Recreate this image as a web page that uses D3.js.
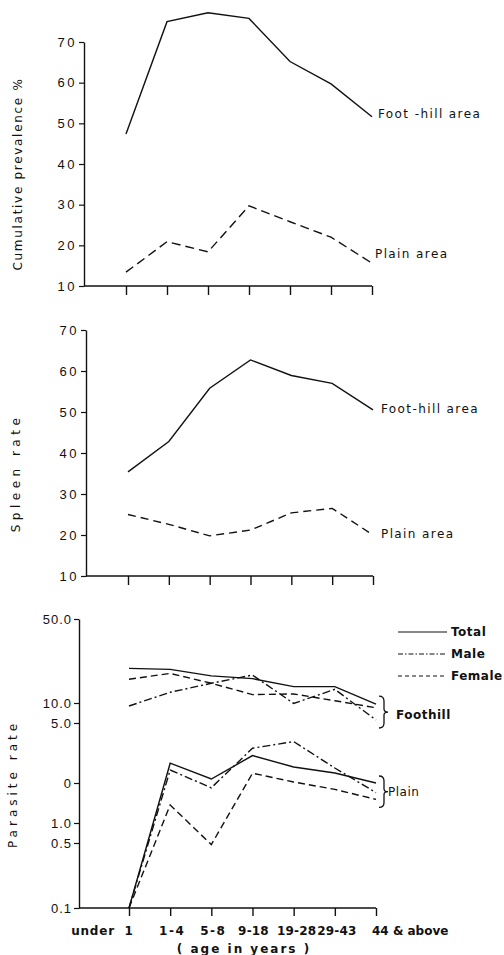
<!DOCTYPE html>
<html>
<head>
<meta charset="utf-8">
<script src="https://cdn.jsdelivr.net/npm/d3@7"></script>
<style>
  body { margin: 0; background: #fff; }
  svg { display: block; font-family: "DejaVu Sans", sans-serif; }
</style>
</head>
<body>
<svg width="504" height="955"></svg>
<script>
const ageGroups = ["under 1", "1-4", "5-8", "9-18", "19-28", "29-43", "44 & above"];

// cumulative prevalence %
const prevFoothill = [47.4, 75.0, 77.2, 75.8, 65.2, 59.7, 51.6];
const prevPlain = [13.4, 20.9, 18.4, 29.7, 25.8, 22.0, 15.6];
const prevTicks = [10, 20, 30, 40, 50, 60, 70];

// spleen rate
const spleenFoothill = [35.4, 42.8, 55.8, 62.7, 58.9, 57.0, 50.5];
const spleenPlain = [25.0, 22.6, 19.8, 21.2, 25.4, 26.5, 20.0];
const spleenTicks = [10, 20, 30, 40, 50, 60, 70];

// parasite rate
const parFootTotal = [26.5, 26.0, 22.9, 21.6, 17.8, 17.8, 9.7];
const parFootMale = [9.25, 15.1, 19.4, 23.3, 9.9, 16.5, 5.75];
const parFootFemale = [21.3, 24.1, 19.4, 14.0, 14.3, 11.1, 8.8];
const parPlainTotal = [0.1, 2.99, 2.2, 3.37, 2.8, 2.5, 2.0];
const parPlainMale = [0.1, 2.65, 1.88, 3.74, 4.07, 2.75, 1.76];
const parPlainFemale = [0.1, 1.45, 0.49, 2.49, 2.05, 1.84, 1.59];
const parTicks = [0.1, 0.5, 1, 2, 5, 10, 50];
const parTickLabels = ["0.1", "0.5", "1.0", "0", "5.0", "10.0", "50.0"];

const legendNames = ["Total", "Male", "Female"];

const ink = "#111";
const dash = { solid: null, dashed: "8,5", female: "7,4", male: "8,3,2,3" };

const svg = d3.select("svg");

function panel(opt) {
  const g = svg.append("g");
  const x = d3.scalePoint().domain(ageGroups).range(opt.xr);
  const y = d3.scaleLinear().domain(opt.ydomain).range(opt.yrange);

  // y axis
  const ya = g.append("g")
    .attr("transform", `translate(${opt.ax},0)`)
    .call(d3.axisLeft(y).tickValues(opt.ticks).tickSize(5).tickPadding(2)
      .tickSizeOuter(0).tickFormat(opt.fmt || d3.format("d")));
  ya.select(".domain").attr("stroke", ink).attr("stroke-width", 1.4);
  ya.selectAll(".tick line").attr("stroke", ink).attr("stroke-width", 1.2);
  ya.selectAll("text").attr("fill", ink).style("font-size", "13px")
    .style("letter-spacing", opt.ls + "px");

  // x axis (line starts at the y axis)
  const yb = opt.yrange[0];
  g.append("line")
    .attr("x1", opt.ax).attr("x2", opt.xr[1])
    .attr("y1", yb).attr("y2", yb)
    .attr("stroke", ink).attr("stroke-width", 1.4);
  const xa = g.append("g")
    .attr("transform", `translate(0,${yb})`)
    .call(d3.axisBottom(x).tickSize(opt.tick).tickFormat(""));
  xa.select(".domain").remove();
  xa.selectAll(".tick line").attr("stroke", ink).attr("stroke-width", 1.4);

  // y label
  g.append("text")
    .attr("transform", `translate(${opt.lx},${opt.ly}) rotate(-90)`)
    .attr("text-anchor", "middle")
    .attr("dy", "0.35em")
    .style("font-size", "12px")
    .style("letter-spacing", opt.lls + "px")
    .attr("fill", ink)
    .text(opt.label);

  const line = d3.line()
    .x((d, i) => x(ageGroups[i]))
    .y(d => y(d));

  opt.series.forEach(s => {
    g.append("path")
      .datum(s.values)
      .attr("d", line)
      .attr("fill", "none")
      .attr("stroke", ink)
      .attr("stroke-width", 1.4)
      .attr("stroke-dasharray", s.dash);
  });

  return { g, x, y };
}

// top panel
const p1 = panel({
  xr: [126, 372], ax: 84, ydomain: [10, 70], yrange: [286, 42], ticks: prevTicks,
  tick: 9, ls: 2.5, lx: 18, ly: 174, lls: 1.7, label: "Cumulative prevalence %",
  series: [
    { values: prevFoothill, dash: dash.solid },
    { values: prevPlain, dash: "9,5" }
  ]
});
p1.g.append("text").attr("x", 378).attr("y", p1.y(prevFoothill[6]) + 1)
  .style("font-size", "12px").style("letter-spacing", "1.4px").attr("fill", ink)
  .text("Foot -hill  area");
p1.g.append("text").attr("x", 375).attr("y", p1.y(prevPlain[6]) - 5)
  .style("font-size", "12px").style("letter-spacing", "1.4px").attr("fill", ink)
  .text("Plain  area");

// middle panel
const p2 = panel({
  xr: [128, 373], ax: 86, ydomain: [10, 70], yrange: [576, 330], ticks: spleenTicks,
  tick: 9, ls: 2.5, lx: 16, ly: 473, lls: 4.5, label: "Spleen rate",
  series: [
    { values: spleenFoothill, dash: dash.solid },
    { values: spleenPlain, dash: dash.dashed }
  ]
});
p2.g.append("text").attr("x", 381).attr("y", p2.y(spleenFoothill[6]) + 3)
  .style("font-size", "12px").style("letter-spacing", "1.4px").attr("fill", ink)
  .text("Foot-hill area");
p2.g.append("text").attr("x", 381).attr("y", p2.y(spleenPlain[6]) + 3)
  .style("font-size", "12px").style("letter-spacing", "1.4px").attr("fill", ink)
  .text("Plain  area");

// bottom panel
const p3 = panel({
  xr: [129, 376], ax: 79, ydomain: parTicks, yrange: [908, 843, 823, 783, 723, 703, 619],
  ticks: parTicks, fmt: (d, i) => parTickLabels[i],
  tick: 8, ls: 1, lx: 13, ly: 784, lls: 4, label: "Parasite rate",
  series: [
    { values: parFootTotal, dash: dash.solid },
    { values: parFootMale, dash: dash.male },
    { values: parFootFemale, dash: dash.female },
    { values: parPlainTotal, dash: dash.solid },
    { values: parPlainMale, dash: dash.male },
    { values: parPlainFemale, dash: dash.female }
  ]
});

// x tick labels
const xl = p3.g.append("g")
  .style("font-size", "12px").style("font-weight", "bold")
  .style("letter-spacing", "0.8px").attr("fill", ink);
const labelShift = [0, 2, 2, 1, 3, 2, -4];
ageGroups.forEach((a, i) => {
  const xx = p3.x(a) + labelShift[i];
  if (i === 0) {
    xl.append("text").attr("x", xx - 36).attr("y", 935).attr("text-anchor", "middle").text("under");
    xl.append("text").attr("x", xx).attr("y", 935).attr("text-anchor", "middle").text("1");
  } else if (i === ageGroups.length - 1) {
    xl.append("text").attr("x", xx).attr("y", 935).style("letter-spacing", "0px").text(a);
  } else {
    xl.append("text").attr("x", xx).attr("y", 935)
      .attr("text-anchor", "middle").style("letter-spacing", i < 3 ? "1.5px" : "0.2px").text(a);
  }
});
p3.g.append("text").attr("x", 244).attr("y", 953).attr("text-anchor", "middle")
  .style("font-size", "12px").style("font-weight", "bold").style("letter-spacing", "2px")
  .attr("fill", ink).text("( age  in  years )");

// legend
const legDash = [null, "5,2,1.5,2", "4,3"];
legendNames.forEach((n, i) => {
  const yy = 632 + i * 22;
  p3.g.append("line").attr("x1", 398).attr("x2", 447).attr("y1", yy).attr("y2", yy)
    .attr("stroke", ink).attr("stroke-width", 1.2).attr("stroke-dasharray", legDash[i]);
  p3.g.append("text").attr("x", 451).attr("y", yy).attr("dy", "0.35em")
    .style("font-size", "12px").style("font-weight", "bold").style("letter-spacing", "0.5px")
    .attr("fill", ink).text(n);
});

// braces
function brace(g, x0, y0, y1) {
  const m = (y0 + y1) / 2, w = 5;
  const path = `M${x0},${y0} Q${x0 + w},${y0} ${x0 + w},${y0 + 5} L${x0 + w},${m - 3}
    Q${x0 + w},${m} ${x0 + w + 4},${m} Q${x0 + w},${m} ${x0 + w},${m + 3}
    L${x0 + w},${y1 - 5} Q${x0 + w},${y1} ${x0},${y1}`;
  g.append("path").attr("d", path).attr("fill", "none").attr("stroke", ink).attr("stroke-width", 1.3);
}
const lastX = p3.x(ageGroups[6]);
const footLast = [parFootTotal, parFootMale, parFootFemale].map(s => p3.y(s[6]));
const plainLast = [parPlainTotal, parPlainMale, parPlainFemale].map(s => p3.y(s[6]));
brace(p3.g, lastX + 3, d3.min(footLast) - 8, d3.max(footLast) + 8);
brace(p3.g, lastX + 3, d3.min(plainLast) - 7, d3.max(plainLast) + 8);
p3.g.append("text").attr("x", 396).attr("y", (d3.min(footLast) + d3.max(footLast)) / 2 + 3)
  .attr("dy", "0.35em").style("font-size", "12px").style("font-weight", "bold")
  .style("letter-spacing", "0.5px").attr("fill", ink).text("Foothill");
p3.g.append("text").attr("x", 388).attr("y", (d3.min(plainLast) + d3.max(plainLast)) / 2 + 1)
  .attr("dy", "0.35em").style("font-size", "12px")
  .style("letter-spacing", "0.5px").attr("fill", ink).text("Plain");
</script>
</body>
</html>
